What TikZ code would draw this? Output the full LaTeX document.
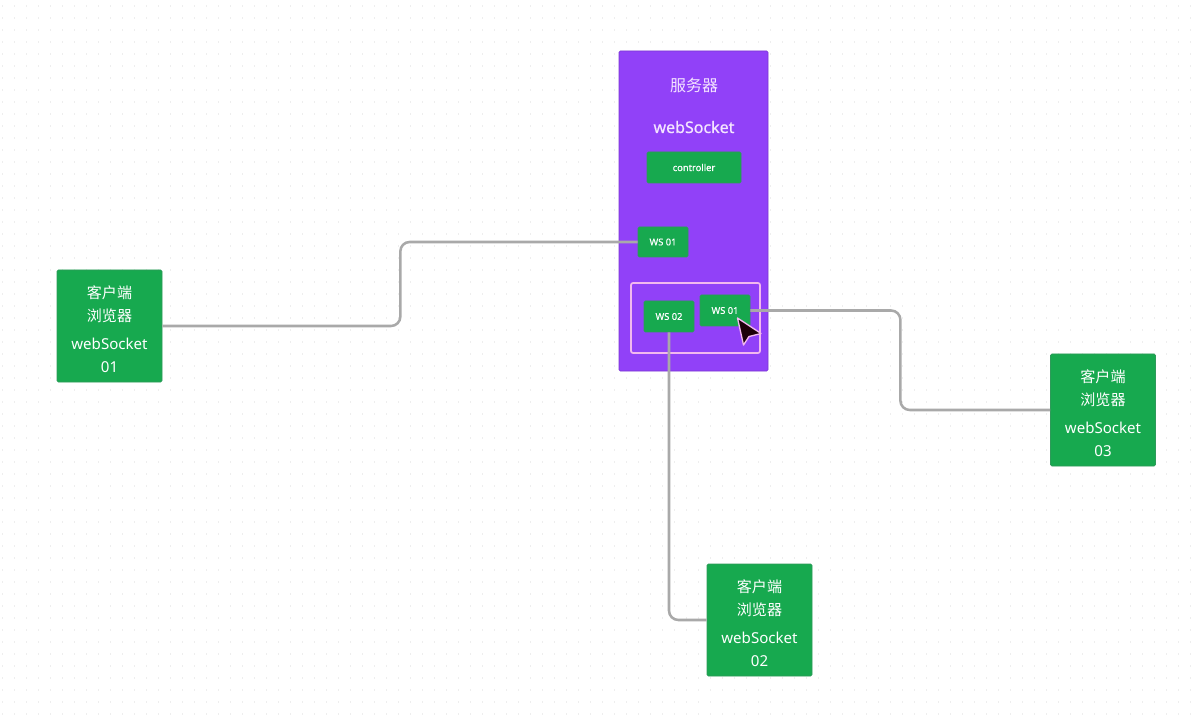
\documentclass[tikz,border=0pt]{standalone}
\usepackage{fontspec}
\setmainfont{Noto Sans CJK SC}
\newfontfamily\lat{Noto Sans}
\newfontfamily\latsb{Noto Sans}[FakeBold=0.6]
\definecolor{srvpurple}{HTML}{9141F8}
\definecolor{nodegreen}{HTML}{17A94F}
\definecolor{greenedge}{HTML}{2E9A5A}
\definecolor{linegray}{HTML}{A9A9A9}
\definecolor{selpink}{HTML}{F2B8EE}
\definecolor{srvtext}{HTML}{F4E4FF}
\definecolor{dotgray}{HTML}{EEEEEE}
\tikzset{
  client/.style={fill=nodegreen, draw=greenedge, line width=0.5pt, rounded corners=1pt,
    minimum width=105*0.75pt, minimum height=112*0.75pt, inner sep=0pt},
  clienttext/.style={text=white, align=center, font=\fontsize{11.3}{17.3}\selectfont, inner sep=0pt},
  wsbox/.style={fill=nodegreen, draw=greenedge, line width=0.6pt, rounded corners=1pt,
    minimum width=50*0.75pt, minimum height=31*0.75pt, inner sep=0pt,
    text=white, font=\latsb\fontsize{7}{8}\selectfont},
  conn/.style={draw=linegray, line width=1.9pt, rounded corners=7pt},
}
\begin{document}
\begin{tikzpicture}[x=0.75pt,y=-0.75pt]
\useasboundingbox (0,0) rectangle (1202,716);
\fill[white] (0,0) rectangle (1202,716);
% dot grid
\foreach \yy in {6,18,...,714}{
  \draw[dotgray, line width=1.1pt, dash pattern=on 1.1pt off 7.9pt] (2,\yy) -- (1202,\yy);
}
% server
\node[fill=srvpurple, draw=srvpurple!85!black, line width=0.4pt, rounded corners=1pt,
  minimum width=149*0.75pt, minimum height=320*0.75pt, inner sep=0pt] (srv) at (693.5,211) {};
\node[text=srvtext, font=\fontsize{12}{14}\selectfont] (srvtitle) at (694,85) {服务器};
\node[text=srvtext, font=\latsb\fontsize{12}{14}\selectfont] (srvws) at (694,127) {webSocket};
\node[wsbox, minimum width=94*0.75pt] (ctrl) at (694,167.5) {controller};
\node[wsbox, minimum height=30*0.75pt] (wsa) at (663,242) {WS 01};
\node[draw=selpink, line width=1.3pt, rounded corners=1.5pt, minimum width=129*0.75pt,
  minimum height=70*0.75pt, inner sep=0pt] (sel) at (695.5,318) {};
\node[wsbox] (wsb) at (669,316.5) {WS 02};
\node[wsbox] (wsc) at (725,310.5) {WS 01};
% clients
\node[client] (c1) at (109.5,326) {};
\node[client] (c3) at (1103,410) {};
\node[client] (c2) at (759.5,620) {};
\node[clienttext] (c1t) at ([yshift=-2.5pt]c1.center) {客户端\\浏览器\\[3.5pt]{\lat webSocket}\\{\lat 01}};
\node[clienttext] (c3t) at ([yshift=-2.5pt]c3.center) {客户端\\浏览器\\[3.5pt]{\lat webSocket}\\{\lat 03}};
\node[clienttext] (c2t) at ([yshift=-2.5pt]c2.center) {客户端\\浏览器\\[3.5pt]{\lat webSocket}\\{\lat 02}};
% connectors
\draw[conn] (c1.east) -- ++(238,0) |- (wsa.west);
\draw[conn] (wsb.south) |- (c2.west);
\draw[conn] (wsc.east) -- ++(150,0) |- (c3.west);
% cursor
\filldraw[fill=black!85!purple, draw=selpink, line width=1pt, line join=round]
  (737.5,318) -- (743.5,345) -- (749,336.5) -- (761,333.5) -- cycle;
\end{tikzpicture}
\end{document}
